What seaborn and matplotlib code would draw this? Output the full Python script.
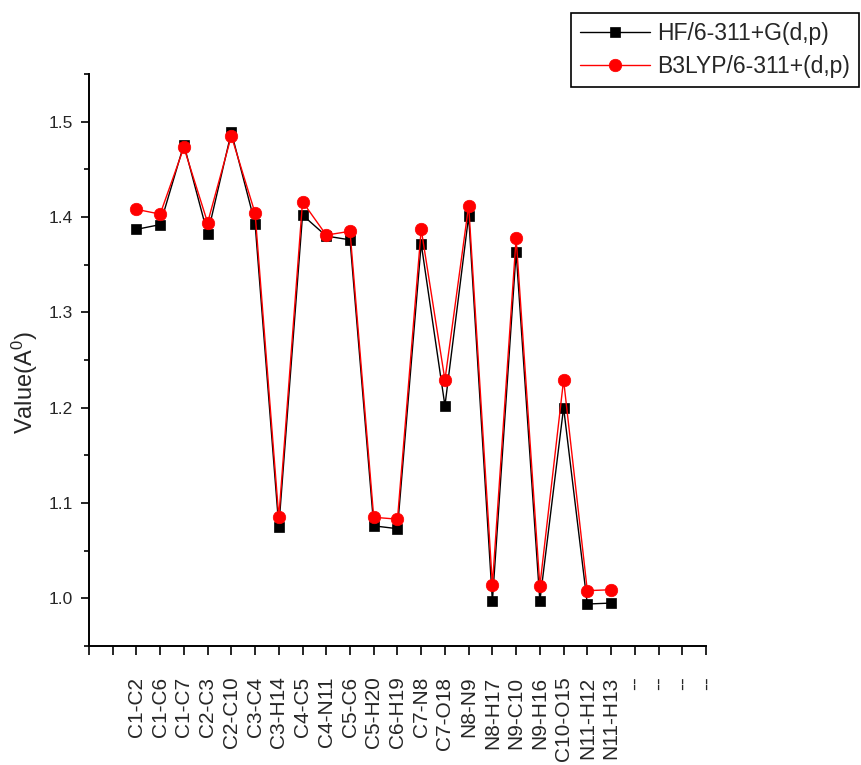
import numpy as np
import pandas as pd
import matplotlib
matplotlib.use("Agg")
import matplotlib.pyplot as plt
from matplotlib.ticker import MultipleLocator
import seaborn as sns

bonds = ["C1-C2", "C1-C6", "C1-C7", "C2-C3", "C2-C10", "C3-C4", "C3-H14", "C4-C5",
         "C4-N11", "C5-C6", "C5-H20", "C6-H19", "C7-N8", "C7-O18", "N8-N9", "N8-H17",
         "N9-C10", "N9-H16", "C10-O15", "N11-H12", "N11-H13"]
hf = [1.387, 1.392, 1.476, 1.382, 1.489, 1.393, 1.075, 1.402, 1.380, 1.376, 1.076,
      1.073, 1.372, 1.202, 1.401, 0.997, 1.363, 0.997, 1.200, 0.994, 0.995]
b3lyp = [1.408, 1.403, 1.473, 1.394, 1.485, 1.404, 1.085, 1.416, 1.381, 1.385, 1.085,
         1.083, 1.387, 1.229, 1.412, 1.014, 1.378, 1.013, 1.229, 1.008, 1.009]
lead_blank = ["", ""]
trail_labels = ["--", "--", "--", "--"]

sns.set_style("ticks")
plt.rcParams["font.family"] = ["Liberation Sans", "DejaVu Sans"]
plt.rcParams["mathtext.fontset"] = "custom"
plt.rcParams["mathtext.rm"] = "Liberation Sans"
plt.rcParams["mathtext.it"] = "Liberation Sans"

tick_labels = lead_blank + bonds + trail_labels
offset = len(lead_blank)
df = pd.DataFrame({"pos": np.arange(len(bonds)) + offset, "HF": hf, "B3LYP": b3lyp})

fig = plt.figure(figsize=(8.62, 7.65), dpi=100)
ax = fig.add_axes([0.1032, 0.1556, 0.7158, 0.7477])

sns.lineplot(data=df, x="pos", y="HF", ax=ax, color="black", marker="s", markersize=7.5,
             markeredgecolor="white", markeredgewidth=2.0, linewidth=1.0,
             label="HF/6-311+G(d,p)")
sns.lineplot(data=df, x="pos", y="B3LYP", ax=ax, color="red", marker="o", markersize=9,
             markeredgecolor="white", markeredgewidth=2.0, linewidth=1.0,
             label="B3LYP/6-311+(d,p)")

ax.set_xlim(0, len(tick_labels) - 1)
ax.set_ylim(0.95, 1.55)
ax.set_xticks(np.arange(len(tick_labels)))
ax.set_xticklabels(tick_labels, rotation=90, fontsize=15)
ax.yaxis.set_minor_locator(MultipleLocator(0.05))
ax.set_yticks([1.0, 1.1, 1.2, 1.3, 1.4, 1.5])
ax.set_yticklabels(["1.0", "1.1", "1.2", "1.3", "1.4", "1.5"], fontsize=12.5)
ax.tick_params(axis="x", direction="out", length=6.5, width=1.4, pad=15.5)
ax.tick_params(axis="y", which="major", direction="out", length=6, width=1.4, pad=5.5)
ax.tick_params(axis="y", which="minor", direction="out", length=3.5, width=1.4)
ax.set_xlabel("")
ax.set_ylabel("Value(A$^0$)", fontsize=17)
ax.yaxis.set_label_coords(-0.079, 0.46)
for s in ["top", "right"]:
    ax.spines[s].set_visible(False)
for s in ["left", "bottom"]:
    ax.spines[s].set_linewidth(1.4)
    ax.spines[s].set_color("black")

ax.get_legend().remove()
h, l = ax.get_legend_handles_labels()
for hh in h:
    hh.set_markeredgecolor(hh.get_color())
    hh.set_markeredgewidth(0.5)
leg = fig.legend(h, l, loc="upper left", bbox_to_anchor=(571 / 862, 1 - 12.7 / 765),
                 fontsize=16.5, frameon=True, fancybox=False, edgecolor="black",
                 framealpha=1, handlelength=3.05, borderpad=0.4, labelspacing=0.44,
                 handletextpad=0.3, borderaxespad=0)
leg.get_frame().set_linewidth(1.2)
for hh in leg.legend_handles:
    hh.set_markersize(7 if hh.get_marker() == "s" else 9)

fig.savefig("out.png", dpi=100)
